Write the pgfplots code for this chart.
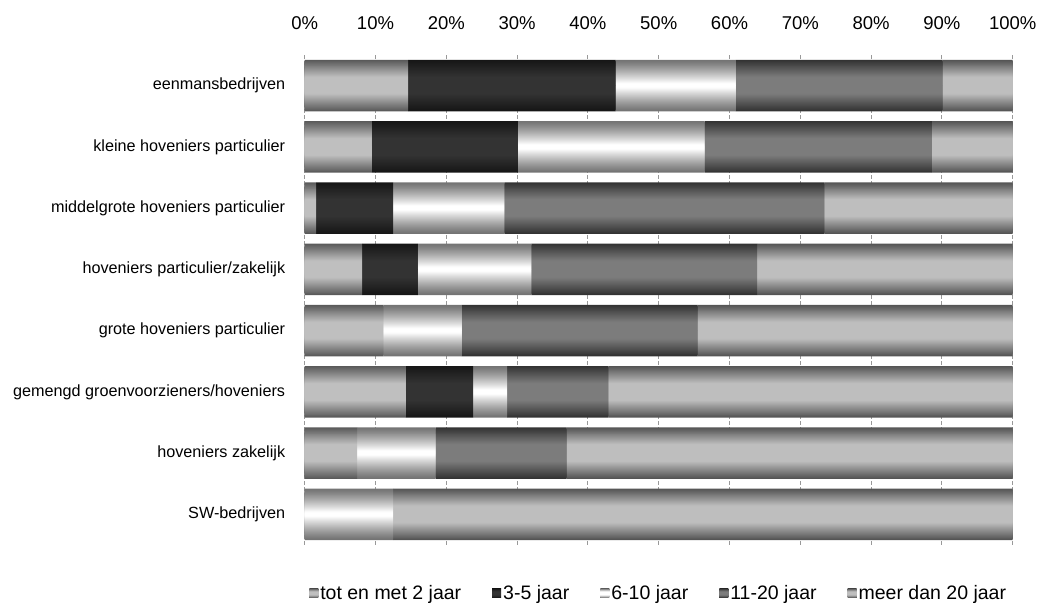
\documentclass[border=0pt]{standalone}
\usepackage{pgfplots}
\usepackage{pgfplotstable}
\pgfplotsset{compat=1.18}
\usepackage{fontspec}
\setmainfont{Liberation Sans}

% share of each age band per company type (%)
\pgfplotstableread{
cat tot  drie zes  elf  meer
0   14.6 29.3 17.0 29.2  9.9
1    9.5 20.6 26.4 32.1 11.4
2    1.6 10.9 15.7 45.2 26.6
3    8.1  7.9 16.0 31.9 36.1
4   11.1  0.0 11.1 33.3 44.5
5   14.3  9.5  4.8 14.3 57.1
6    7.4  0.0 11.1 18.5 63.0
7    0.0  0.0 12.5  0.0 87.5
}\data

% bar colours: dark edge / light centre of each band
\definecolor{totE}{HTML}{5A5A5A}\definecolor{totM}{HTML}{BFBFBF}
\definecolor{drieE}{HTML}{161616}\definecolor{drieM}{HTML}{333333}
\definecolor{zesE}{HTML}{747474}\definecolor{zesM}{HTML}{FFFFFF}
\definecolor{elfE}{HTML}{333333}\definecolor{elfM}{HTML}{7C7C7C}
\definecolor{meerE}{HTML}{555555}\definecolor{meerM}{HTML}{BEBEBE}

% shadings for the small legend squares
\newcommand\barshade[3]{%
  \pgfdeclareverticalshading{#1}{100bp}{%
    color(0bp)=(#2); color(25bp)=(#2); color(40bp)=(#3);
    color(60bp)=(#3); color(75bp)=(#2); color(100bp)=(#2)}}
\barshade{totshade}{totE}{totM}
\barshade{drieshade}{drieE}{drieM}
\barshade{zesshade}{zesE}{zesM}
\barshade{elfshade}{elfE}{elfM}
\barshade{meershade}{meerE}{meerM}

\pgfplotsset{
  barbase/.style={
    scale only axis,
    width=708pt, height=490pt,
    xbar stacked,
    xmin=0, xmax=100,
    ymin=-0.5, ymax=7.5,
    y dir=reverse,
  },
  legsq/.style={legend image code/.code={%
    \fill[shading=#1] (0pt,-4.5pt) rectangle (9pt,4.5pt);}},
}

\begin{document}
\begin{tikzpicture}
% outer layer: full bar height in the edge colours, plus grid, labels, legend
\begin{axis}[
  barbase,
  name=ax,
  bar width=51.7pt,
  xtick={0,10,...,100},
  xticklabels={0\%,10\%,20\%,30\%,40\%,50\%,60\%,70\%,80\%,90\%,100\%},
  xticklabel pos=upper,
  xticklabel style={font=\fontsize{18.5}{20}\selectfont, yshift=22pt},
  ytick={0,1,...,7},
  yticklabels={eenmansbedrijven,
               kleine hoveniers particulier,
               middelgrote hoveniers particulier,
               hoveniers particulier/zakelijk,
               grote hoveniers particulier,
               gemengd groenvoorzieners/hoveniers\ ,
               hoveniers zakelijk,
               SW-bedrijven},
  yticklabel style={font=\fontsize{16.2}{18}\selectfont, xshift=-16pt},
  major tick length=0pt,
  axis line style={draw=none},
  xmajorgrids,
  grid style={draw=black!40, line width=1pt, dash pattern=on 4pt off 2pt},
  legend columns=-1,
  legend style={at={(0.5,0)}, anchor=center, yshift=-48pt, draw=none,
    font=\fontsize{19.5}{22}\selectfont,
    /tikz/every even column/.append style={column sep=29pt},
    nodes={inner sep=2pt}},
]
\addplot[fill=totE,  draw=none, legsq=totshade]  table[x=tot,  y=cat] {\data};
\addplot[fill=drieE, draw=none, legsq=drieshade] table[x=drie, y=cat] {\data};
\addplot[fill=zesE,  draw=none, legsq=zesshade]  table[x=zes,  y=cat] {\data};
\addplot[fill=elfE,  draw=none, legsq=elfshade]  table[x=elf,  y=cat] {\data};
\addplot[fill=meerE, draw=none, legsq=meershade] table[x=meer, y=cat] {\data};
\legend{tot en met 2 jaar, 3-5 jaar, 6-10 jaar, 11-20 jaar, meer dan 20 jaar}
\end{axis}
% inner layers: ever thinner bars, ever lighter, for the rounded look
\foreach \k in {1,...,25}{
  \pgfmathsetmacro\bw{51.7*(1-\k/26)}
  \pgfmathsetmacro\pg{100*min(1,\k/26/0.66)}
  \pgfmathsetmacro\pz{100*min(1,\k/26/0.9)^1.2}
  \begin{axis}[barbase, hide axis, bar width=\bw pt]
  \addplot[fill=totM!\pg!totE,   draw=none] table[x=tot,  y=cat] {\data};
  \addplot[fill=drieM!\pg!drieE, draw=none] table[x=drie, y=cat] {\data};
  \addplot[fill=zesM!\pz!zesE,   draw=none] table[x=zes,  y=cat] {\data};
  \addplot[fill=elfM!\pg!elfE,   draw=none] table[x=elf,  y=cat] {\data};
  \addplot[fill=meerM!\pg!meerE, draw=none] table[x=meer, y=cat] {\data};
  \end{axis}
}
\pgfresetboundingbox
\path[use as bounding box] ([xshift=-304.7pt,yshift=-61pt]ax.south west)
  rectangle ++(1038pt,606pt);
\end{tikzpicture}
\end{document}
